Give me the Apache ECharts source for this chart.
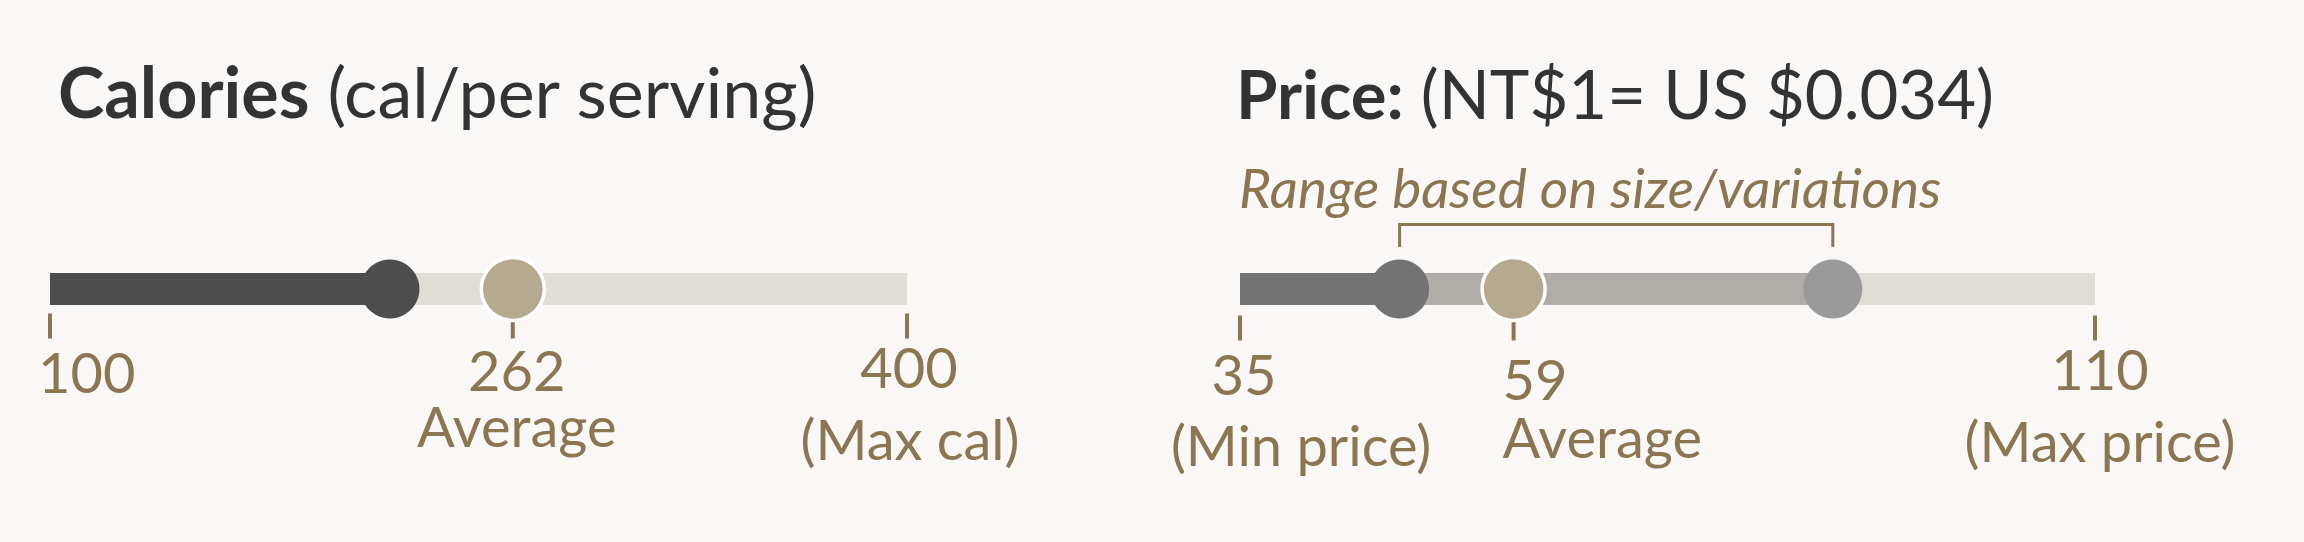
<!DOCTYPE html>
<html>
<head>
<meta charset="utf-8">
<script src="https://cdn.jsdelivr.net/npm/echarts@6/dist/echarts.min.js"></script>
<style>
html,body{margin:0;padding:0;background:#faf7f7;}
#c{width:2304px;height:542px;}
</style>
</head>
<body>
<div id="c"></div>
<script>
// ---- data ----
const calRange = [100, 400];
const calValue = 219;
const calAverage = 262;
const calTicks = [100, 262, 400];
const calTickLabels = ['100', '262', '400'];
const calTickNotes = ['', 'Average', '(Max cal)'];

const priceRange = [35, 110];
const priceLow = 49;
const priceHigh = 87;
const priceAverage = 59;
const priceTicks = [35, 59, 110];
const priceTickLabels = ['35', '59', '110'];
const priceTickNotes = ['(Min price)', 'Average', '(Max price)'];

// ---- styles ----
const BG = '#faf7f7';
const GOLD = '#8b7651';
const TRACK = '#e0dcd6';
const FONT = 'Lato, "Noto Sans", sans-serif';
const LBL = 56;

const chart = echarts.init(document.getElementById('c'), null, {renderer: 'svg'});

function seg(a, b) { return [[a, 0], [b, 0]]; }
function lineSeries(idx, data, color, width, z) {
  return {type: 'line', xAxisIndex: idx, yAxisIndex: idx, data: data, symbol: 'none',
    silent: true, z: z, animation: false,
    lineStyle: {color: color, width: width, cap: 'butt', join: 'miter', opacity: 1}};
}
function dot(idx, x, color, border, z) {
  return {type: 'scatter', xAxisIndex: idx, yAxisIndex: idx, data: [[x, 0]], symbol: 'circle',
    symbolSize: border ? 63 : 59, z: z, silent: true, animation: false,
    itemStyle: {color: color, borderColor: border ? '#ffffff' : color, borderWidth: border ? 3.5 : 0, opacity: 1}};
}
function ticks(idx, values, off) {
  return {type: 'scatter', xAxisIndex: idx, yAxisIndex: idx, data: values.map(v => [v, 0]),
    symbol: 'rect', symbolSize: [4, 25], symbolOffset: [0, off], z: 1, silent: true, animation: false,
    itemStyle: {color: GOLD, opacity: 1}};
}
function textItem(idx, x, text, dx, dy, align) {
  return {type: 'scatter', xAxisIndex: idx, yAxisIndex: idx, data: [[x, 0]], symbolSize: 0, z: 10,
    silent: true, animation: false, itemStyle: {opacity: 1},
    label: {show: true, position: 'inside', formatter: text, offset: [dx, dy], align: align || 'center',
      verticalAlign: 'middle', color: GOLD, opacity: 1, fontFamily: FONT, fontSize: LBL, fontWeight: 'normal',
      lineHeight: 40}};
}

// label layout (pixel offsets from the tick point)
const calLabelLayout = [
  {dx: -12, dy: 82, align: 'left'},
  {dx: 4, dy: 80, align: 'center'},
  {dx: 2, dy: 77, align: 'center'}
];
const calNoteLayout = [null, {dx: 4, dy: 136, align: 'center'}, {dx: 3, dy: 149, align: 'center'}];
const priceLabelLayout = [
  {dx: 4, dy: 84, align: 'center'},
  {dx: -11, dy: 89, align: 'left'},
  {dx: 5, dy: 79, align: 'center'}
];
const priceNoteLayout = [{dx: 61, dy: 155, align: 'center'}, {dx: -11, dy: 147, align: 'left'}, {dx: 5, dy: 151, align: 'center'}];

function addLabels(idx, tickVals, labels, notes, LL, NL) {
  tickVals.forEach((t, i) => {
    const L = LL[i];
    series.push(textItem(idx, t, labels[i], L.dx, L.dy, L.align));
    if (notes[i] && NL[i]) {
      const N = NL[i];
      series.push(textItem(idx, t, notes[i], N.dx, N.dy, N.align));
    }
  });
}

const series = [];
// calories panel
series.push(lineSeries(0, seg(calRange[0], calRange[1]), TRACK, 32, 2));
series.push(lineSeries(0, seg(calRange[0], calValue), '#4d4d4d', 32, 3));
series.push(ticks(0, calTicks, 37));
series.push(dot(0, calValue, '#4d4d4d', false, 5));
series.push(dot(0, calAverage, '#b5a990', true, 6));
addLabels(0, calTicks, calTickLabels, calTickNotes, calLabelLayout, calNoteLayout);
// price panel
series.push(lineSeries(1, seg(priceRange[0], priceRange[1]), TRACK, 32, 2));
series.push(lineSeries(1, seg(priceLow, priceHigh), '#b0aca8', 32, 3));
series.push(lineSeries(1, seg(priceRange[0], priceLow), '#737373', 32, 3));
series.push(ticks(1, priceTicks, 39));
series.push(dot(1, priceLow, '#737373', false, 5));
series.push(dot(1, priceHigh, '#9a9a9a', false, 5));
series.push(dot(1, priceAverage, '#b5a990', true, 6));
// range bracket
series.push(lineSeries(1, [[priceLow, 0.84], [priceLow, 1.29], [priceHigh, 1.29], [priceHigh, 0.84]], GOLD, 3, 4));
addLabels(1, priceTicks, priceTickLabels, priceTickNotes, priceLabelLayout, priceNoteLayout);

function titleRich(size) {
  return {
    b: {fontFamily: FONT, fontSize: size, fontWeight: 'bold', color: '#333333', lineHeight: size},
    r: {fontFamily: FONT, fontSize: size, fontWeight: 'normal', color: '#333333', lineHeight: size}
  };
}
chart.setOption({
  backgroundColor: BG,
  animation: false,
  title: [
    {text: '{b|Calories}{r|\u00a0(cal/per serving)}', left: 53, top: 51, textStyle: {rich: titleRich(70)}},
    {text: '{b|Price:}{r|\u00a0(NT$1= US $0.034)}', left: 1231, top: 54, textStyle: {rich: titleRich(67)}},
    {text: 'Range based on size/variations', left: 1234, top: 154,
      textStyle: {fontFamily: FONT, fontSize: 55, fontStyle: 'italic', fontWeight: 'normal', color: GOLD, lineHeight: 55}}
  ],
  grid: [
    {left: 50, width: 857, top: 189, height: 200},
    {left: 1240, width: 855, top: 189, height: 200}
  ],
  xAxis: [
    {type: 'value', gridIndex: 0, min: calRange[0], max: calRange[1], show: false},
    {type: 'value', gridIndex: 1, min: priceRange[0], max: priceRange[1], show: false}
  ],
  yAxis: [
    {type: 'value', gridIndex: 0, min: -2, max: 2, show: false},
    {type: 'value', gridIndex: 1, min: -2, max: 2, show: false}
  ],
  series: series
});
</script>
</body>
</html>
